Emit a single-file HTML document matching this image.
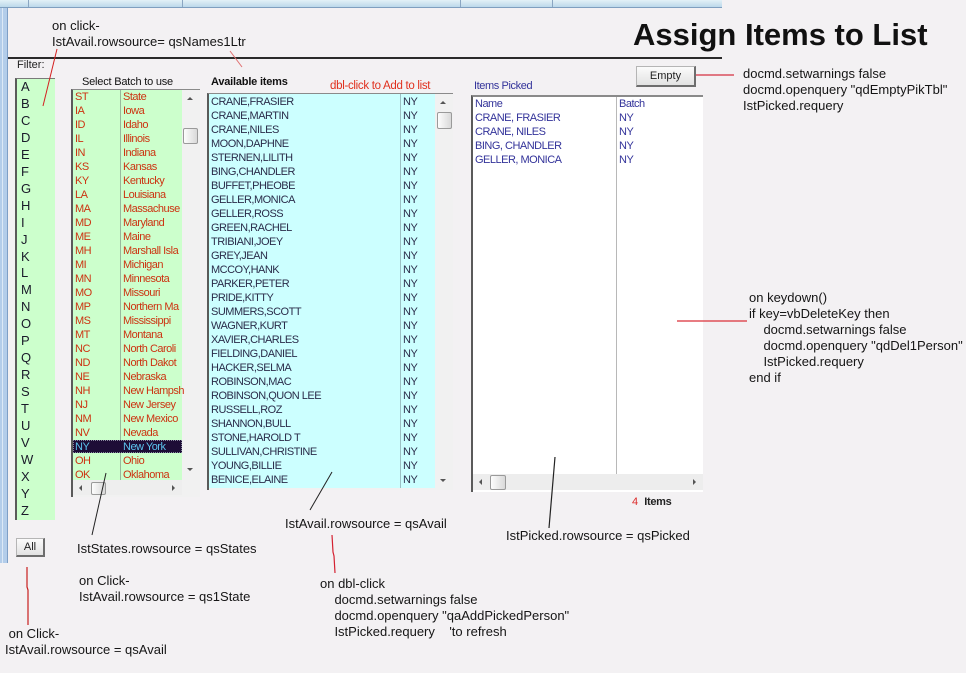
<!DOCTYPE html>
<html>
<head>
<meta charset="utf-8">
<style>
  html,body{margin:0;padding:0;}
  body{width:966px;height:673px;overflow:hidden;background:#f3f1f3;}
  #root{position:relative;width:966px;height:673px;overflow:hidden;background:#f3f1f3;font-family:"Liberation Sans",Arial,sans-serif;}
  .abs{position:absolute;}
  .ann{position:absolute;font-size:13px;line-height:16px;color:#151515;white-space:pre;}
  .lst{position:absolute;font-size:11px;line-height:14px;letter-spacing:-0.5px;white-space:nowrap;}
  .row{position:relative;height:14px;}
  .c2{position:absolute;top:0;}
  .btn{position:absolute;background:linear-gradient(#fbfbfb,#e2e2e2);border:1px solid #b5b5b5;border-right:2px solid #6d6d6d;border-bottom:2px solid #6d6d6d;font-size:11px;color:#222;text-align:center;box-sizing:border-box;}
  .thumb{position:absolute;background:linear-gradient(90deg,#fdfdfd,#d9d9d9);border:1px solid #9a9a9a;border-radius:2px;box-sizing:border-box;}
  .tri{position:absolute;width:0;height:0;}
</style>
</head>
<body>
<div id="root">

  <!-- top bar -->
  <div class="abs" style="left:0;top:0;width:722px;height:7px;background:linear-gradient(#e3f1f7,#bcd8ea);border-bottom:1px solid #7f9fbf;"></div>
  <div class="abs" style="left:28px;top:0;width:1px;height:7px;background:#8aa6c2;"></div>
  <div class="abs" style="left:182px;top:0;width:1px;height:7px;background:#8aa6c2;"></div>
  <div class="abs" style="left:460px;top:0;width:1px;height:7px;background:#8aa6c2;"></div>
  <div class="abs" style="left:552px;top:0;width:1px;height:7px;background:#8aa6c2;"></div>

  <!-- left blue strip -->
  <div class="abs" style="left:0;top:8px;width:7px;height:555px;background:#b3cdea;border-right:1px solid #7e9fc6;"></div>
  <div class="abs" style="left:2px;top:8px;width:1px;height:555px;background:#dce9f6;"></div>

  <!-- header line -->
  <div class="abs" style="left:8px;top:57px;width:714px;height:2px;background:#2a2a2a;"></div>

  <!-- title -->
  <div class="abs" style="left:633px;top:19px;font-size:31px;line-height:31px;font-weight:bold;color:#111;white-space:pre;">Assign Items to List</div>

  <!-- annotations -->
  <div class="ann" style="left:52px;top:18px;">on click-
IstAvail.rowsource= qsNames1Ltr</div>

  <div class="ann" style="left:743px;top:66px;">docmd.setwarnings false
docmd.openquery "qdEmptyPikTbl"
IstPicked.requery</div>

  <div class="ann" style="left:749px;top:290px;">on keydown()
if key=vbDeleteKey then
    docmd.setwarnings false
    docmd.openquery "qdDel1Person"
    IstPicked.requery
end if</div>

  <div class="ann" style="left:285px;top:516px;">IstAvail.rowsource = qsAvail</div>
  <div class="ann" style="left:506px;top:528px;">IstPicked.rowsource = qsPicked</div>
  <div class="ann" style="left:77px;top:541px;">IstStates.rowsource = qsStates</div>
  <div class="ann" style="left:79px;top:573px;">on Click-
IstAvail.rowsource = qs1State</div>
  <div class="ann" style="left:320px;top:576px;">on dbl-click
    docmd.setwarnings false
    docmd.openquery "qaAddPickedPerson"
    IstPicked.requery    'to refresh</div>
  <div class="ann" style="left:5px;top:626px;"> on Click-
IstAvail.rowsource = qsAvail</div>

  <!-- Filter -->
  <div class="abs" style="left:17px;top:58px;font-size:11px;line-height:14px;color:#222;">Filter:</div>
  <div class="abs" style="left:15px;top:78px;width:40px;height:442px;background:#ccffcc;border-left:2px solid #5a5a5a;border-top:1px solid #7a7a7a;box-sizing:border-box;"></div>
  <div class="abs" style="left:21px;top:79px;font-size:13px;line-height:16.96px;color:#1a1a2a;white-space:pre;">A
B
C
D
E
F
G
H
I
J
K
L
M
N
O
P
Q
R
S
T
U
V
W
X
Y
Z</div>
  <div class="btn" style="left:16px;top:538px;width:29px;height:19px;line-height:17px;">All</div>

  <!-- States list -->
  <div class="abs" style="left:82px;top:75px;font-size:11px;line-height:14px;color:#111;letter-spacing:-0.2px;">Select Batch to use</div>
  <div class="abs" style="left:71px;top:89px;width:129px;height:408px;border-left:2px solid #5a5a5a;border-top:1px solid #8a8a8a;box-sizing:border-box;background:#f1f1f1;"></div>
  <div class="abs" style="left:73px;top:90px;width:109px;height:390px;background:#ccffcc;"></div>
  <div class="abs" style="left:120px;top:90px;width:1px;height:390px;background:#9ab89c;"></div>
  <div class="abs" style="left:73px;top:440px;width:109px;height:13px;background:#1d0d36;outline:1px dotted #8a8aa0;outline-offset:-1px;"></div>
  <div class="lst" style="left:75px;top:90px;width:107px;color:#cc3311;"><div class="row">ST<span class="c2" style="left:48px">State</span></div><div class="row">IA<span class="c2" style="left:48px">Iowa</span></div><div class="row">ID<span class="c2" style="left:48px">Idaho</span></div><div class="row">IL<span class="c2" style="left:48px">Illinois</span></div><div class="row">IN<span class="c2" style="left:48px">Indiana</span></div><div class="row">KS<span class="c2" style="left:48px">Kansas</span></div><div class="row">KY<span class="c2" style="left:48px">Kentucky</span></div><div class="row">LA<span class="c2" style="left:48px">Louisiana</span></div><div class="row">MA<span class="c2" style="left:48px">Massachuse</span></div><div class="row">MD<span class="c2" style="left:48px">Maryland</span></div><div class="row">ME<span class="c2" style="left:48px">Maine</span></div><div class="row">MH<span class="c2" style="left:48px">Marshall Isla</span></div><div class="row">MI<span class="c2" style="left:48px">Michigan</span></div><div class="row">MN<span class="c2" style="left:48px">Minnesota</span></div><div class="row">MO<span class="c2" style="left:48px">Missouri</span></div><div class="row">MP<span class="c2" style="left:48px">Northern Ma</span></div><div class="row">MS<span class="c2" style="left:48px">Mississippi</span></div><div class="row">MT<span class="c2" style="left:48px">Montana</span></div><div class="row">NC<span class="c2" style="left:48px">North Caroli</span></div><div class="row">ND<span class="c2" style="left:48px">North Dakot</span></div><div class="row">NE<span class="c2" style="left:48px">Nebraska</span></div><div class="row">NH<span class="c2" style="left:48px">New Hampsh</span></div><div class="row">NJ<span class="c2" style="left:48px">New Jersey</span></div><div class="row">NM<span class="c2" style="left:48px">New Mexico</span></div><div class="row">NV<span class="c2" style="left:48px">Nevada</span></div><div class="row" style="color:#5cc4ee;">NY<span class="c2" style="left:48px">New York</span></div><div class="row">OH<span class="c2" style="left:48px">Ohio</span></div><div class="row">OK<span class="c2" style="left:48px">Oklahoma</span></div></div>
  <div class="abs" style="left:73px;top:480px;width:109px;height:15px;background:#eeeeee;"></div>
  <!-- states scrollbars -->
  <div class="tri" style="left:187px;top:97px;border-left:3px solid transparent;border-right:3px solid transparent;border-bottom:3px solid #555;"></div>
  <div class="thumb" style="left:183px;top:128px;width:15px;height:16px;"></div>
  <div class="tri" style="left:187px;top:468px;border-left:3px solid transparent;border-right:3px solid transparent;border-top:3px solid #555;"></div>
  <div class="tri" style="left:79px;top:485px;border-top:3px solid transparent;border-bottom:3px solid transparent;border-right:3px solid #555;"></div>
  <div class="thumb" style="left:91px;top:482px;width:15px;height:13px;"></div>
  <div class="tri" style="left:172px;top:485px;border-top:3px solid transparent;border-bottom:3px solid transparent;border-left:3px solid #555;"></div>

  <!-- Available list -->
  <div class="abs" style="left:211px;top:75px;font-size:11px;line-height:14px;font-weight:bold;color:#111;letter-spacing:-0.2px;">Available items</div>
  <div class="abs" style="left:330px;top:79px;font-size:11.5px;line-height:14px;color:#e0301e;letter-spacing:-0.3px;white-space:pre;">dbl-click to Add to list</div>
  <div class="abs" style="left:207px;top:93px;width:246px;height:397px;border-left:2px solid #5a5a5a;border-top:1px solid #8a8a8a;box-sizing:border-box;background:#f1f1f1;"></div>
  <div class="abs" style="left:209px;top:94px;width:226px;height:394px;background:#ccffff;"></div>
  <div class="abs" style="left:400px;top:94px;width:1px;height:394px;background:#9cc0c4;"></div>
  <div class="lst" style="left:211px;top:95px;width:222px;color:#2a2c4a;"><div class="row">CRANE,FRASIER<span class="c2" style="left:192px">NY</span></div><div class="row">CRANE,MARTIN<span class="c2" style="left:192px">NY</span></div><div class="row">CRANE,NILES<span class="c2" style="left:192px">NY</span></div><div class="row">MOON,DAPHNE<span class="c2" style="left:192px">NY</span></div><div class="row">STERNEN,LILITH<span class="c2" style="left:192px">NY</span></div><div class="row">BING,CHANDLER<span class="c2" style="left:192px">NY</span></div><div class="row">BUFFET,PHEOBE<span class="c2" style="left:192px">NY</span></div><div class="row">GELLER,MONICA<span class="c2" style="left:192px">NY</span></div><div class="row">GELLER,ROSS<span class="c2" style="left:192px">NY</span></div><div class="row">GREEN,RACHEL<span class="c2" style="left:192px">NY</span></div><div class="row">TRIBIANI,JOEY<span class="c2" style="left:192px">NY</span></div><div class="row">GREY,JEAN<span class="c2" style="left:192px">NY</span></div><div class="row">MCCOY,HANK<span class="c2" style="left:192px">NY</span></div><div class="row">PARKER,PETER<span class="c2" style="left:192px">NY</span></div><div class="row">PRIDE,KITTY<span class="c2" style="left:192px">NY</span></div><div class="row">SUMMERS,SCOTT<span class="c2" style="left:192px">NY</span></div><div class="row">WAGNER,KURT<span class="c2" style="left:192px">NY</span></div><div class="row">XAVIER,CHARLES<span class="c2" style="left:192px">NY</span></div><div class="row">FIELDING,DANIEL<span class="c2" style="left:192px">NY</span></div><div class="row">HACKER,SELMA<span class="c2" style="left:192px">NY</span></div><div class="row">ROBINSON,MAC<span class="c2" style="left:192px">NY</span></div><div class="row">ROBINSON,QUON LEE<span class="c2" style="left:192px">NY</span></div><div class="row">RUSSELL,ROZ<span class="c2" style="left:192px">NY</span></div><div class="row">SHANNON,BULL<span class="c2" style="left:192px">NY</span></div><div class="row">STONE,HAROLD T<span class="c2" style="left:192px">NY</span></div><div class="row">SULLIVAN,CHRISTINE<span class="c2" style="left:192px">NY</span></div><div class="row">YOUNG,BILLIE<span class="c2" style="left:192px">NY</span></div><div class="row">BENICE,ELAINE<span class="c2" style="left:192px">NY</span></div></div>
  <div class="tri" style="left:440px;top:101px;border-left:3px solid transparent;border-right:3px solid transparent;border-bottom:3px solid #555;"></div>
  <div class="thumb" style="left:437px;top:112px;width:15px;height:17px;"></div>
  <div class="tri" style="left:440px;top:479px;border-left:3px solid transparent;border-right:3px solid transparent;border-top:3px solid #555;"></div>

  <!-- Picked list -->
  <div class="abs" style="left:474px;top:79px;font-size:11px;line-height:14px;color:#33339a;letter-spacing:-0.4px;">Items Picked</div>
  <div class="btn" style="left:636px;top:66px;width:60px;height:21px;line-height:18px;">Empty</div>
  <div class="abs" style="left:471px;top:95px;width:232px;height:397px;border-left:2px solid #5a5a5a;border-top:2px solid #8a8a8a;box-sizing:border-box;background:#ffffff;"></div>
  <div class="abs" style="left:616px;top:97px;width:1px;height:377px;background:#b8b8b8;"></div>
  <div class="abs" style="left:473px;top:474px;width:230px;height:16px;background:#ededed;"></div>
  <div class="lst" style="left:475px;top:97px;width:226px;color:#33339a;"><div class="row">Name<span class="c2" style="left:144px">Batch</span></div><div class="row">CRANE, FRASIER<span class="c2" style="left:144px">NY</span></div><div class="row">CRANE, NILES<span class="c2" style="left:144px">NY</span></div><div class="row">BING, CHANDLER<span class="c2" style="left:144px">NY</span></div><div class="row">GELLER, MONICA<span class="c2" style="left:144px">NY</span></div></div>
  <div class="tri" style="left:479px;top:479px;border-top:3px solid transparent;border-bottom:3px solid transparent;border-right:3px solid #555;"></div>
  <div class="thumb" style="left:490px;top:475px;width:16px;height:15px;"></div>
  <div class="tri" style="left:693px;top:479px;border-top:3px solid transparent;border-bottom:3px solid transparent;border-left:3px solid #555;"></div>

  <div class="abs" style="left:632px;top:495px;font-size:11px;line-height:14px;white-space:pre;color:#222;"><span style="color:#dd2a2a;">4</span>  <span style="font-weight:bold;letter-spacing:-0.3px;">Items</span></div>

  <!-- connector lines -->
  <svg class="abs" style="left:0;top:0;" width="966" height="673" viewBox="0 0 966 673">
    <line x1="57" y1="49" x2="43" y2="106" stroke="#d42020" stroke-width="1"/>
    <line x1="230" y1="51" x2="242" y2="67" stroke="#e07070" stroke-width="1"/>
    <line x1="696" y1="75" x2="734" y2="75" stroke="#d43040" stroke-width="1.2"/>
    <line x1="677" y1="321" x2="747" y2="321" stroke="#e05058" stroke-width="1.5"/>
    <line x1="332" y1="472" x2="310" y2="510" stroke="#222" stroke-width="1"/>
    <polyline points="332,535 333,552 334,556 335,573" fill="none" stroke="#d42030" stroke-width="1.2"/>
    <line x1="555" y1="457" x2="549" y2="528" stroke="#222" stroke-width="1.2"/>
    <line x1="106" y1="473" x2="92" y2="535" stroke="#222" stroke-width="1"/>
    <polyline points="27,567 27,587 28,590 28,625" fill="none" stroke="#c81e1e" stroke-width="1.2"/>
  </svg>
</div>
</body>
</html>
